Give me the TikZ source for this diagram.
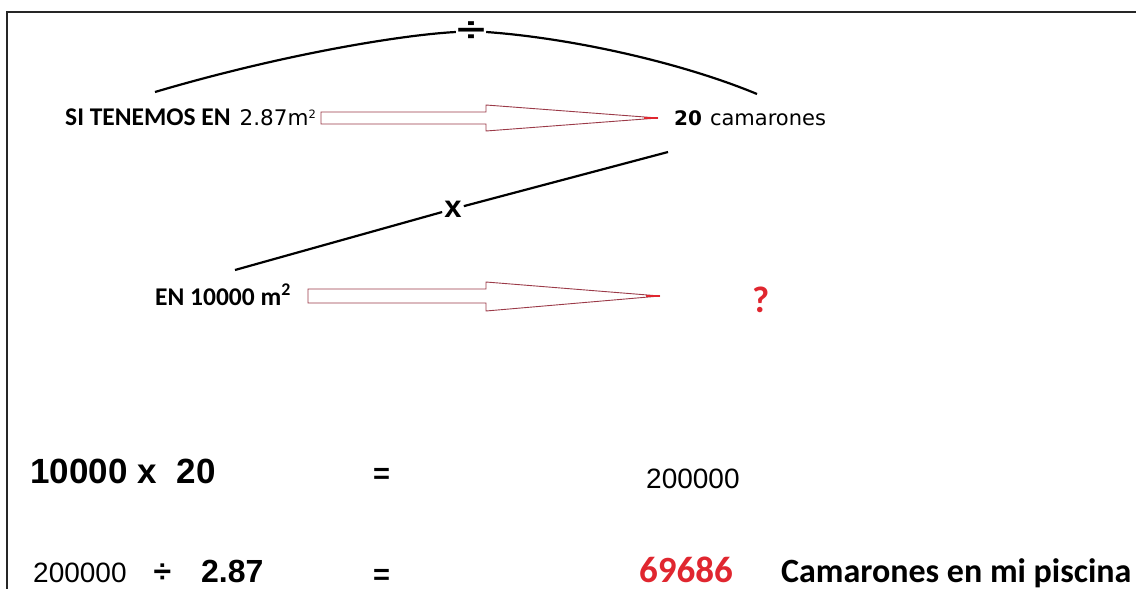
\documentclass[tikz,border=0pt]{standalone}
\usepackage{fontspec}
\usetikzlibrary{calc}
\setmainfont{Liberation Sans}
\newfontfamily\calfont{Carlito}
\newfontfamily\arifont{Liberation Sans}
\newfontfamily\dvfont{DejaVu Sans}
\definecolor{arrred}{HTML}{9B3A48}
\definecolor{txtred}{HTML}{E0262F}
\begin{document}
\begin{tikzpicture}[x=1pt,y=-1pt,
  lbl/.style={inner sep=0pt,anchor=base west},
  fatarrow/.style={draw=arrred,line width=0.9pt,fill=white},
  arcline/.style={line width=2.2pt,black},
  frame/.style={line width=2pt,black!85}]
\useasboundingbox (0,0) rectangle (1136,589);
\draw[frame] (7,589) -- (7,12) -- (1136,12);
% top labels
\node[lbl] (si) at (65,125) {\calfont\bfseries\fontsize{25.5}{27}\selectfont SI TENEMOS EN\hspace{9pt}\dvfont\mdseries\fontsize{21.5}{24}\selectfont 2.87m\raisebox{7pt}{\fontsize{11.5}{13}\selectfont 2}};
\node[lbl] (cam) at (674,125) {\dvfont\bfseries\fontsize{20}{22}\selectfont 20\hspace{8pt}\mdseries\fontsize{21}{22}\selectfont camarones};
\node[lbl] (en) at (155,305) {\calfont\bfseries\fontsize{25.5}{27}\selectfont EN 10000 m\textsuperscript{2}};
\node[lbl,text=txtred] (q) at (752,312) {\calfont\bfseries\fontsize{37}{38}\selectfont ?};
% arrows
\coordinate (t1) at (658,118);
\coordinate (t2) at (660,296);
\draw[fatarrow] (321,112) -- (486,112) -- (486,105) -- (t1) -- (486,131) -- (486,124) -- (321,124) -- cycle;
\draw[txtred,line width=1.2pt] ($(t1)+(-14,0)$) -- (t1);
\draw[fatarrow] (308,289) -- (486,289) -- (486,282) -- (t2) -- (486,311) -- (486,303) -- (308,303) -- cycle;
\draw[txtred,line width=1.2pt] ($(t2)+(-14,0)$) -- (t2);
% divide arc
\node[inner sep=1pt] (div) at (471,32) {\arifont\bfseries\fontsize{34}{36}\selectfont\scalebox{1.5}[1]{÷}};
\coordinate (a1) at (155,92);
\coordinate (a2) at (757,94);
\draw[arcline] (a1) .. controls (280,55) and (400,35) .. (div.west);
\draw[arcline] (div.east) .. controls (570,38) and (680,62) .. (a2);
% multiply line
\node[inner sep=2pt] (mul) at (453,209) {\arifont\bfseries\fontsize{31}{33}\selectfont x};
\coordinate (b1) at (235,270);
\coordinate (b2) at (668,152);
\draw[arcline] (b1) -- (mul);
\draw[arcline] (mul) -- (b2);
% bottom
\node[lbl] (e1) at (30,483) {\arifont\bfseries\fontsize{35}{38}\selectfont 10000 x\hspace{20pt}20};
\node[lbl] (eq1) at (373,483) {\arifont\bfseries\fontsize{29}{30}\selectfont =};
\node[lbl] (r1) at (646,488) {\arifont\fontsize{28}{30}\selectfont 200000};
\node[lbl] (e2) at (33,582) {\arifont\fontsize{28}{30}\selectfont 200000\hspace{27pt}{\bfseries\fontsize{32}{32}\selectfont ÷}\hspace{30pt}{\bfseries\fontsize{32}{32}\selectfont 2.87}};
\node[lbl] (eq2) at (373,584) {\arifont\bfseries\fontsize{29}{30}\selectfont =};
\node[lbl,text=txtred] (r2) at (639,582) {\calfont\bfseries\fontsize{37}{40}\selectfont 69686};
\node[lbl] (txt) at (781,582) {\calfont\bfseries\fontsize{34}{36}\selectfont Camarones en mi piscina};
\end{tikzpicture}
\end{document}
